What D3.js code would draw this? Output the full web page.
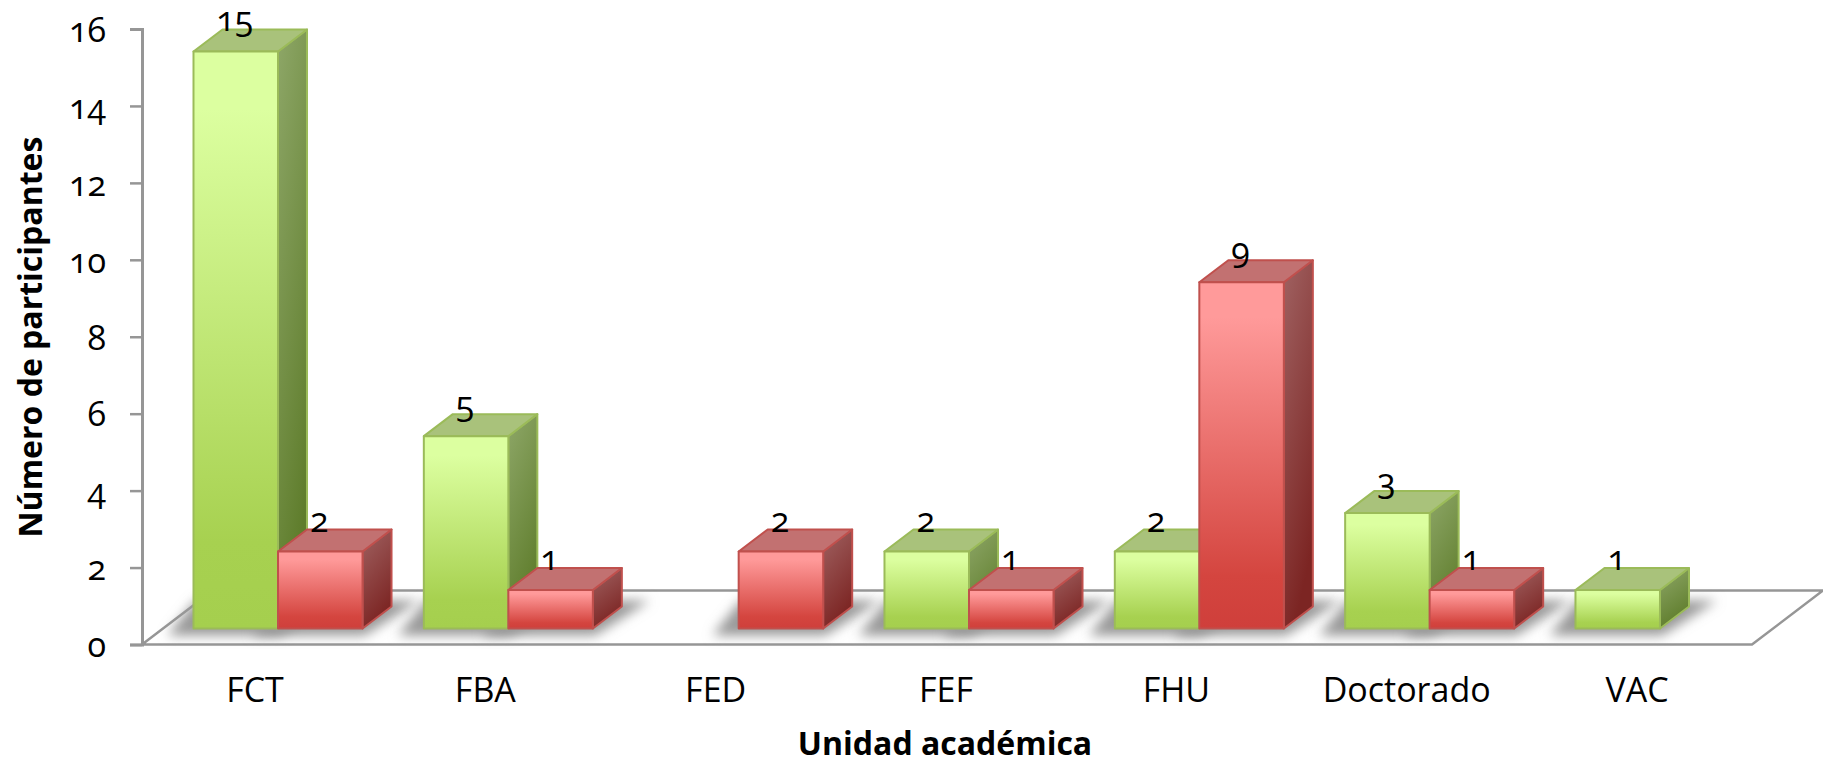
<!DOCTYPE html>
<html><head><meta charset="utf-8">
<style>html,body{margin:0;padding:0;background:#fff;overflow:hidden}svg{display:block}
text{font-family:"Open Sans",sans-serif;fill:#000;font-feature-settings:"onum" 1;}</style>
<script src="https://cdn.jsdelivr.net/npm/d3@7"></script></head><body><svg id="c" width="1823" height="763"></svg>
<script>
const categories=["FCT","FBA","FED","FEF","FHU","Doctorado","VAC"];
const seriesNames=["a","b"];
const greenValues=[15,5,0,2,2,3,1];
const redValues=[2,1,2,1,9,1,0];
const yTicks=[0,2,4,6,8,10,12,14,16];
const xTitle="Unidad académica";
const yTitle="Número de participantes";

const svg=d3.select("#c");
const DX=29,DY=22,BASE=16;
const y=d3.scaleLinear().domain([0,16]).range([644.5,29]);
const x=d3.scaleBand().domain(categories).range([193.5,1744.5]).paddingInner(1-169/230.3).paddingOuter(0);
const xs=d3.scaleBand().domain(seriesNames).range([0,x.bandwidth()]);
const defs=svg.append("defs");
function grad(id,stops,x2,y2){
  const g=defs.append("linearGradient").attr("id",id).attr("x1",0).attr("y1",0).attr("x2",x2).attr("y2",y2);
  stops.forEach(s=>g.append("stop").attr("offset",s[0]).attr("stop-color",s[1]));
}
grad("gf",[[0,"#dcffa0"],[.1,"#dcffa0"],[.85,"#a7d150"],[1,"#a5cf4e"]],0,1);
grad("rf",[[0,"#ff9a9a"],[.1,"#ff9a9a"],[.85,"#d4453f"],[1,"#cf3f3b"]],0,1);
grad("gs",[[0,"#8ea768"],[1,"#5f7d2c"]],.35,1);
grad("rs",[[0,"#a06262"],[1,"#7c2523"]],.35,1);
defs.append("filter").attr("id","blur").attr("x","-30%").attr("y","-60%").attr("width","160%").attr("height","220%")
  .append("feGaussianBlur").attr("stdDeviation",6);

const styles={a:{front:"url(#gf)",side:"url(#gs)",top:"#a9c27b",stroke:"#9bbb59"},
              b:{front:"url(#rf)",side:"url(#rs)",top:"#c27171",stroke:"#c0504d"}};
const pts=p=>p.map(q=>q.join(",")).join(" ");

// floor
const fy=y(0), by=fy-54;
svg.append("polygon").attr("points",pts([[142,fy],[213,by],[1823,by],[1752,fy]]))
  .attr("fill","#fff").attr("stroke","#969696").attr("stroke-width",2.5);

const rows=[];
categories.forEach((c,i)=>{
  rows.push({c,s:"a",v:greenValues[i]});
  rows.push({c,s:"b",v:redValues[i]});
});
const visible=rows.filter(d=>d.v>0);
const x0=d=>x(d.c)+xs(d.s), x1=d=>x0(d)+xs.bandwidth();
const bot=y(0)-BASE, topY=d=>y(d.v)-BASE;

// floor shadows
svg.append("g").selectAll("polygon").data(visible).join("polygon")
  .attr("points",d=>pts([[x0(d)-26,bot+7],[x1(d)+2,bot+7],[x1(d)+DX+28,bot-DY-6],[x0(d)+2,bot-DY-6]]))
  .attr("fill","#999").attr("filter","url(#blur)");

// bars
const bars=svg.append("g").selectAll("g").data(visible).join("g")
  .attr("stroke",d=>styles[d.s].stroke).attr("stroke-width",2).attr("stroke-linejoin","round");
bars.append("polygon").attr("points",d=>pts([[x1(d),topY(d)],[x1(d)+DX,topY(d)-DY],[x1(d)+DX,bot-DY],[x1(d),bot]]))
  .attr("fill",d=>styles[d.s].side);
bars.append("polygon").attr("points",d=>pts([[x0(d),topY(d)],[x0(d)+DX,topY(d)-DY],[x1(d)+DX,topY(d)-DY],[x1(d),topY(d)]]))
  .attr("fill",d=>styles[d.s].top);
bars.append("rect").attr("x",x0).attr("y",topY).attr("width",xs.bandwidth()).attr("height",d=>bot-topY(d))
  .attr("fill",d=>styles[d.s].front);

// value labels
svg.append("g").selectAll("text").data(visible).join("text")
  .attr("x",d=>x0(d)+xs.bandwidth()/2-1).attr("y",d=>topY(d)-DY+2)
  .attr("text-anchor","middle").attr("font-size",34).text(d=>d.v);

// y axis
const yAxis=d3.axisLeft(y).tickValues(yTicks).tickSize(12).tickPadding(24).tickFormat(d3.format("d"));
const gy=svg.append("g").attr("transform","translate(142,0)").call(yAxis);
gy.select(".domain").attr("stroke","#969696").attr("stroke-width",3);
gy.selectAll(".tick line").attr("stroke","#969696").attr("stroke-width",2.5);
gy.selectAll("text").attr("font-size",34).attr("dy","0.36em");
gy.attr("font-family",null);

// category labels
svg.append("g").selectAll("text").data(categories).join("text")
  .attr("x",c=>x(c)+x.bandwidth()/2-23).attr("y",702).attr("text-anchor","middle")
  .attr("font-size",34).text(c=>c);

svg.append("text").attr("x",945).attr("y",755).attr("text-anchor","middle")
  .attr("font-size",32).attr("font-weight",700).text(xTitle);
svg.append("text").attr("transform","translate(42,337) rotate(-90)").attr("text-anchor","middle")
  .attr("font-size",32).attr("font-weight",700).text(yTitle);
</script></body></html>
